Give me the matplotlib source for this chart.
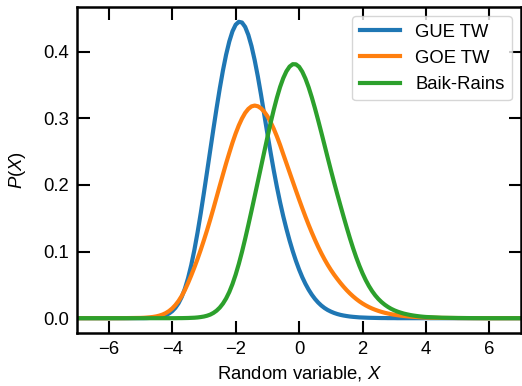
import matplotlib
matplotlib.use('Agg')
import matplotlib.pyplot as plt

# values (shared x grid)
x_vals = [-7, -6, -5.5,
          -5.0, -4.9, -4.8, -4.7, -4.6, -4.5, -4.4, -4.3, -4.2, -4.1,
          -4.0, -3.9, -3.8, -3.7, -3.6, -3.5, -3.4, -3.3, -3.2, -3.1,
          -3.0, -2.9, -2.8, -2.7, -2.6, -2.5, -2.4, -2.3, -2.2, -2.1,
          -2.0, -1.9, -1.8, -1.7, -1.6, -1.5, -1.4, -1.3, -1.2, -1.1,
          -1.0, -0.9, -0.8, -0.7, -0.6, -0.5, -0.4, -0.3, -0.2, -0.1,
          0.0, 0.1, 0.2, 0.3, 0.4, 0.5, 0.6, 0.7, 0.8, 0.9,
          1.0, 1.1, 1.2, 1.3, 1.4, 1.5, 1.6, 1.7, 1.8, 1.9,
          2.0, 2.1, 2.2, 2.3, 2.4, 2.5, 2.6, 2.7, 2.8, 2.9,
          3.0, 3.1, 3.2, 3.3, 3.4, 3.5, 3.6, 3.7, 3.8, 3.9,
          4.0, 4.5, 5, 5.5, 6, 7]

gue_tw = [0, 0, 0,
          0.0001, 0.0001, 0.0002, 0.0004, 0.0007, 0.0011, 0.0018, 0.0029, 0.0046, 0.0070,
          0.0105, 0.0155, 0.0224, 0.0318, 0.0442, 0.0600, 0.0795, 0.1025, 0.1287, 0.1575,
          0.1882, 0.2200, 0.2522, 0.2842, 0.3153, 0.3448, 0.3718, 0.3955, 0.4152, 0.4304,
          0.4403, 0.4447, 0.4436, 0.4370, 0.4250, 0.4082, 0.3871, 0.3626, 0.3352, 0.3060,
          0.2770, 0.2490, 0.2220, 0.1970, 0.1740, 0.1530, 0.1340, 0.1165, 0.1005, 0.0860,
          0.0730, 0.0615, 0.0515, 0.0428, 0.0353, 0.0289, 0.0235, 0.0190, 0.0153, 0.0123,
          0.0099, 0.0079, 0.0063, 0.0050, 0.0040, 0.0032, 0.0025, 0.0020, 0.0016, 0.0012,
          0.0010, 0.0008, 0.0006, 0.0005, 0.0004, 0.0003, 0.0002, 0.0002, 0.0001, 0.0001,
          0.0001, 0, 0, 0, 0, 0, 0, 0, 0, 0,
          0, 0, 0, 0, 0, 0]

goe_tw = [0, 0, 0.0001,
          0.0004, 0.0006, 0.0009, 0.0013, 0.0019, 0.0027, 0.0039, 0.0055, 0.0077, 0.0107,
          0.0146, 0.0196, 0.0258, 0.0333, 0.0422, 0.0527, 0.0641, 0.0762, 0.0890, 0.1026,
          0.1171, 0.1322, 0.1481, 0.1646, 0.1817, 0.1988, 0.2157, 0.2324, 0.2481, 0.2633,
          0.2771, 0.2893, 0.2996, 0.3080, 0.3140, 0.3178, 0.3190, 0.3180, 0.3149, 0.3099,
          0.3031, 0.2945, 0.2843, 0.2727, 0.2600, 0.2461, 0.2325, 0.2188, 0.2051, 0.1915,
          0.1781, 0.1650, 0.1523, 0.1401, 0.1285, 0.1175, 0.1071, 0.0974, 0.0884, 0.0801,
          0.0725, 0.0655, 0.0591, 0.0530, 0.0473, 0.0420, 0.0372, 0.0328, 0.0288, 0.0252,
          0.0220, 0.0192, 0.0167, 0.0145, 0.0126, 0.0109, 0.0094, 0.0081, 0.0070, 0.0060,
          0.0052, 0.0045, 0.0038, 0.0033, 0.0028, 0.0024, 0.0020, 0.0017, 0.0014, 0.0012,
          0.0010, 0.0004, 0.0002, 0.0001, 0, 0]

baik_rains = [0, 0, 0,
              0, 0, 0, 0, 0, 0, 0, 0, 0, 0,
              0, 0, 0.0001, 0.0001, 0.0002, 0.0003, 0.0005, 0.0007, 0.0011, 0.0017,
              0.0025, 0.0037, 0.0054, 0.0079, 0.0113, 0.0159, 0.0219, 0.0296, 0.0393, 0.0512,
              0.0653, 0.0815, 0.0995, 0.1191, 0.1398, 0.1612, 0.1830, 0.2050, 0.2271, 0.2492,
              0.2712, 0.2926, 0.3125, 0.3307, 0.3468, 0.3601, 0.3704, 0.3775, 0.3811, 0.3809,
              0.3772, 0.3698, 0.3594, 0.3465, 0.3314, 0.3148, 0.2971, 0.2787, 0.2599, 0.2410,
              0.2224, 0.2042, 0.1866, 0.1695, 0.1526, 0.1361, 0.1202, 0.1052, 0.0913, 0.0786,
              0.0672, 0.0571, 0.0483, 0.0407, 0.0342, 0.0287, 0.0241, 0.0202, 0.0169, 0.0141,
              0.0118, 0.0099, 0.0083, 0.0069, 0.0058, 0.0048, 0.0040, 0.0033, 0.0027, 0.0022,
              0.0018, 0.0007, 0.0003, 0.0001, 0, 0]

labels = ['GUE TW', 'GOE TW', 'Baik-Rains']
x_ticks = [-6, -4, -2, 0, 2, 4, 6]
y_ticks = [0.0, 0.1, 0.2, 0.3, 0.4]

plt.rcParams['font.family'] = ['Liberation Sans', 'DejaVu Sans']
plt.rcParams['font.size'] = 13.3
plt.rcParams['mathtext.fontset'] = 'custom'
plt.rcParams['mathtext.rm'] = 'Liberation Sans'
plt.rcParams['mathtext.it'] = 'Liberation Sans:italic'

fig = plt.figure(figsize=(5.22, 3.86), dpi=100)
ax = fig.add_axes([0.1475, 0.1373, 0.851, 0.8446])

for series, lab in zip([gue_tw, goe_tw, baik_rains], labels):
    ax.plot(x_vals, series, lw=3, label=lab)

ax.set_xlim(-7, 7)
ax.set_xticks(x_ticks)
ax.set_yticks(y_ticks)
ax.set_xlabel('Random variable, $X$', labelpad=4)
ax.set_ylabel('$P(X)$', labelpad=11)
ax.tick_params(direction='in', length=9, width=1.5, pad=6, top=True, right=True)
for sp in ax.spines.values():
    sp.set_linewidth(1.8)
ax.legend(loc='upper right', handlelength=2.2)

fig.savefig('out.png', dpi=100)
